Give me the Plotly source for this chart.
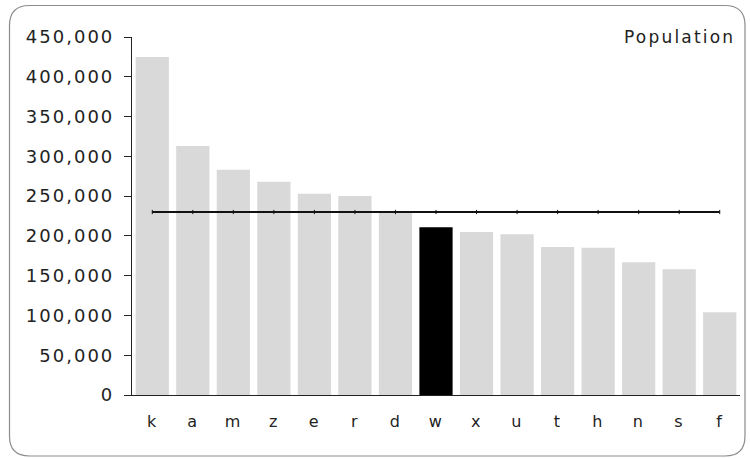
import plotly.graph_objects as go

categories = ["k", "a", "m", "z", "e", "r", "d", "w", "x", "u", "t", "h", "n", "s", "f"]
population = [425000, 313000, 283000, 268000, 253000, 250000, 230000, 211000,
              205000, 202000, 186000, 185000, 167000, 158000, 104000]
highlight = "w"
average_value = 230000
y_ticks = [0, 50000, 100000, 150000, 200000, 250000, 300000, 350000, 400000, 450000]

W, H = 750, 459
L, R, T, B = 132, 10, 37, 64
pw, ph = W - L - R, H - T - B

bar_colors = ["#000000" if c == highlight else "#d9d9d9" for c in categories]

fig = go.Figure()
fig.add_trace(go.Bar(
    x=categories, y=population, marker=dict(color=bar_colors, line=dict(width=0)),
    showlegend=False, hoverinfo="x+y",
))
fig.add_trace(go.Scatter(
    x=categories, y=[average_value] * len(categories), mode="lines+markers",
    line=dict(color="#111111", width=2),
    marker=dict(symbol="line-ns-open", size=3, color="#111111", line=dict(width=1, color="#111111")),
    showlegend=False, hoverinfo="y",
))

def px2paper(x, y):
    return (x - L) / pw, (H - B - y) / ph

def P(x, y):
    a, b = px2paper(x, y)
    return f"{a:.5f},{b:.5f}"

# rounded outer border
x0, y0, x1, y1, r = 9.5, 5.5, 745, 456, 20
path = (f"M {P(x0 + r, y0)} L {P(x1 - r, y0)} Q {P(x1, y0)} {P(x1, y0 + r)} "
        f"L {P(x1, y1 - r)} Q {P(x1, y1)} {P(x1 - r, y1)} "
        f"L {P(x0 + r, y1)} Q {P(x0, y1)} {P(x0, y1 - r)} "
        f"L {P(x0, y0 + r)} Q {P(x0, y0)} {P(x0 + r, y0)} Z")
fig.add_shape(type="path", path=path, xref="paper", yref="paper",
              line=dict(color="#8c8c8c", width=1.2), layer="below")

fig.add_annotation(text="Population", xref="paper", yref="paper",
                   x=px2paper(726, 0)[0], y=px2paper(0, 37)[1], xanchor="right", yanchor="middle",
                   showarrow=False, font=dict(family="DejaVu Sans", size=17, color="#222222"))

fig.update_layout(
    width=W, height=H, margin=dict(l=L, r=R, t=T, b=B),
    paper_bgcolor="white", plot_bgcolor="white",
    bargap=0.18,
    font=dict(family="DejaVu Sans", size=16, color="#222222"),
    xaxis=dict(range=[-0.5, len(categories) - 0.5], showgrid=False, showline=True,
               linecolor="#222222", linewidth=1.2, ticks="", tickfont=dict(size=16),
               ticklabelstandoff=12, fixedrange=True),
    yaxis=dict(range=[0, 450000], tickvals=y_ticks, tickformat=",", showgrid=False,
               showline=True, linecolor="#222222", linewidth=1.2, ticks="outside",
               ticklen=7, tickcolor="#222222", tickfont=dict(size=18), zeroline=False,
               ticklabelstandoff=6, fixedrange=True),
)

post = """
document.body.style.margin = '0';
var st = document.createElement('style');
st.textContent = '.main-svg .ytick text { letter-spacing: 2px; } '
  + '.main-svg .xtick text { letter-spacing: 1.5px; } '
  + '.main-svg .annotation-text { letter-spacing: 2.2px; }';
document.head.appendChild(st);
"""
fig.write_html("out.html", post_script=post, config={"displayModeBar": False})
